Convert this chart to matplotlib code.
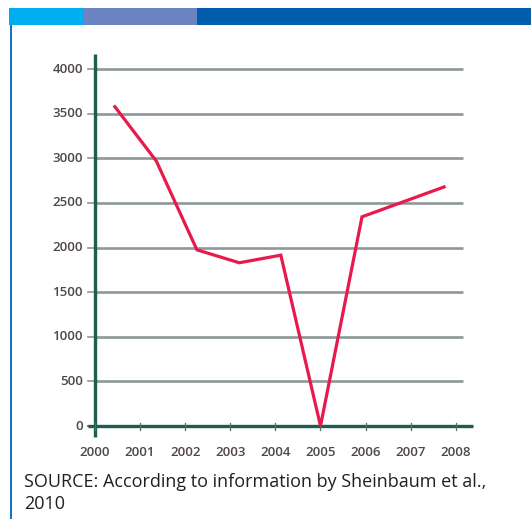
import matplotlib
matplotlib.use("Agg")
import matplotlib.pyplot as plt
from matplotlib.patches import Rectangle

# Data (x positions)
years = [2000.44, 2001.36, 2002.26, 2003.2, 2004.12, 2005.0, 2005.92, 2007.74]
values = [3580, 2970, 1975, 1830, 1915, 0, 2345, 2680]
xtick_years = [2000, 2001, 2002, 2003, 2004, 2005, 2006, 2007, 2008]
ytick_values = [0, 500, 1000, 1500, 2000, 2500, 3000, 3500, 4000]
source_text = "SOURCE: According to information by Sheinbaum et al.,\n2010"

W, H = 531, 519
fig = plt.figure(figsize=(W / 100, H / 100), dpi=100)
fig.patch.set_facecolor("white")

FONT = ["Open Sans", "DejaVu Sans"]
AX_GREEN = "#1d5e4f"
GRID = "#8e9799"
RED = "#e8194b"
LBL = "#4f4648"

# Top colour bar and left rule
def px_rect(x0, y0, x1, y1, color):
    fig.add_artist(Rectangle((x0 / W, 1 - y1 / H), (x1 - x0) / W, (y1 - y0) / H,
                             transform=fig.transFigure, color=color, lw=0))

px_rect(9, 8, 84, 25, "#00aeef")
px_rect(84, 8, 197, 25, "#6b84c2")
px_rect(197, 8, 531, 25, "#005ead")
px_rect(10, 25, 12, 519, "#1a6fc0")

# Axes placed so that year 2000 -> x=95 px, 45.1 px/year; 0 -> y=426 px, 44.6 px/500
x_left_px, x_right_px = 86, 474
y_top_px, y_bot_px = 50, 440
ax = fig.add_axes([x_left_px / W, 1 - y_bot_px / H,
                   (x_right_px - x_left_px) / W, (y_bot_px - y_top_px) / H])
ppy = 45.1
ppv = 44.6 / 500
ax.set_xlim(2000 - (95 - x_left_px) / ppy, 2000 + (x_right_px - 95) / ppy)
ax.set_ylim(-(y_bot_px - 426) / ppv, (426 - y_top_px) / ppv)
for s in ax.spines.values():
    s.set_visible(False)
ax.set_xticks([])
ax.set_yticks([])
ax.patch.set_alpha(0)

# gridlines
for v in ytick_values[1:]:
    ax.plot([2000, 2008.16], [v, v], color=GRID, lw=1.9, solid_capstyle="butt", zorder=1)

# axes lines
ax.plot([2000, 2000], [-125, 4175], color=AX_GREEN, lw=2.4, solid_capstyle="butt", zorder=3)
ax.plot([1999.85, 2008.38], [0, 0], color=AX_GREEN, lw=2.4, solid_capstyle="butt", zorder=3)

# y ticks
for v in ytick_values:
    ax.plot([2000 - 7 / ppy, 2000], [v, v], color=GRID if v else AX_GREEN, lw=1.2, zorder=2)
    ax.text(2000 - 12 / ppy, v, str(v), ha="right", va="center", fontsize=9.5,
            color=LBL, family=FONT, fontweight="semibold")

# x ticks
for yr in xtick_years:
    ax.plot([yr, yr], [-3.5 / ppv, 3.5 / ppv], color="#5a6a66", lw=0.9, zorder=4)
    ax.text(yr, -(453 - 426) / ppv, str(yr), ha="center", va="center", fontsize=9.5,
            color=LBL, family=FONT, fontweight="semibold")

# data line
ax.plot(years, values, color=RED, lw=2.3, solid_joinstyle="miter", zorder=5, clip_on=False)

fig.text(24 / W, 1 - 473 / H, source_text, ha="left", va="top", fontsize=13,
         color="#231f20", family=FONT, linespacing=1.3)

fig.savefig("out.png", dpi=100)
